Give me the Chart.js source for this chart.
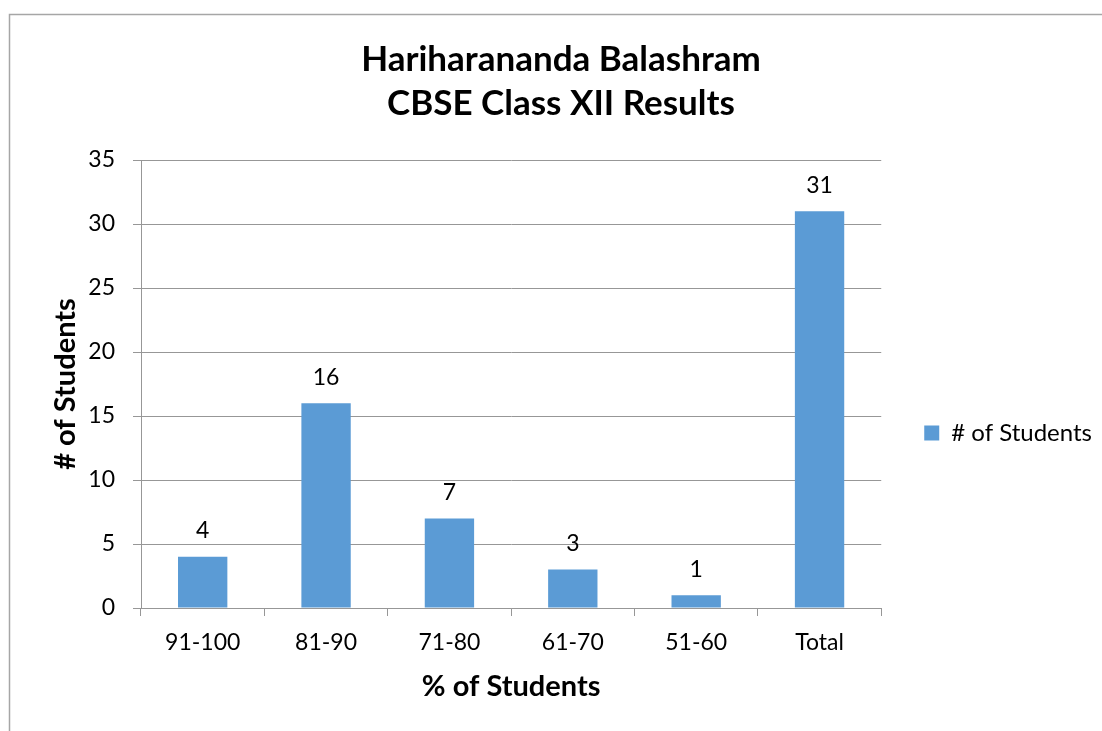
<!DOCTYPE html>
<html><head><meta charset="utf-8">
<script src="https://cdn.jsdelivr.net/npm/chart.js@4/dist/chart.umd.min.js"></script>
<style>html,body{margin:0;padding:0;background:#fff;overflow:hidden}#wrap{width:1102px;height:731px;position:relative}</style>
</head><body><div id="wrap"><canvas id="c" width="1102" height="731"></canvas></div>
<script>
const categories = ['91-100', '81-90', '71-80', '61-70', '51-60', 'Total'];
const students = [4, 16, 7, 3, 1, 31];
const titleLines = ['Hariharananda Balashram', 'CBSE Class XII Results'];
const seriesName = '# of Students';
const xTitle = '% of Students';
const yTitle = '# of Students';
const yMin = 0, yMax = 35, yStep = 5;

const FONT = 'Lato, "Open Sans", sans-serif';
const GRID = '#979797';

const framePlugin = {
  id: 'frame',
  beforeDraw(chart) {
    const ctx = chart.ctx;
    ctx.save();
    ctx.fillStyle = '#ffffff';
    ctx.fillRect(0, 0, chart.width, chart.height);
    ctx.strokeStyle = '#a6a6a6';
    ctx.lineWidth = 1.5;
    ctx.strokeRect(9.5, 14.5, 3000, 3000);
    ctx.restore();
  }
};

const labelPlugin = {
  id: 'barLabels',
  afterDatasetsDraw(chart) {
    const ctx = chart.ctx;
    ctx.save();
    ctx.fillStyle = '#000';
    ctx.font = '23px ' + FONT;
    ctx.textAlign = 'center';
    ctx.textBaseline = 'middle';
    chart.getDatasetMeta(0).data.forEach((bar, i) => {
      ctx.fillText(String(chart.data.datasets[0].data[i]), bar.x, bar.y - 26);
    });
    ctx.restore();
  }
};

const legendShift = {
  id: 'legendShift',
  afterLayout(chart) {
    if (chart.legend) { chart.legend.top += 49; chart.legend.bottom += 49; }
  }
};

new Chart(document.getElementById('c'), {
  type: 'bar',
  data: {
    labels: categories,
    datasets: [{
      label: seriesName,
      data: students,
      backgroundColor: '#5b9bd5',
      borderWidth: 0,
      barPercentage: 0.4,
      categoryPercentage: 1.0
    }]
  },
  plugins: [framePlugin, labelPlugin, legendShift],
  options: {
    responsive: false,
    animation: false,
    devicePixelRatio: 1,
    layout: { padding: { top: 0, left: 20, right: 0, bottom: 0 } },
    plugins: {
      tooltip: { enabled: false },
      title: {
        display: true,
        text: titleLines,
        color: '#000',
        font: { family: FONT, size: 35, weight: 'bold', lineHeight: 44 / 35 },
        padding: { top: 38, bottom: 34 }
      },
      legend: {
        display: true,
        position: 'right',
        fullSize: false,
        maxWidth: 240,
        labels: {
          color: '#000',
          font: { family: FONT, size: 24 },
          boxWidth: 15,
          boxHeight: 15,
          padding: 43
        }
      }
    },
    scales: {
      x: {
        grid: { offset: true, drawOnChartArea: false, color: GRID, tickLength: 8 },
        border: { color: GRID },
        ticks: { color: '#000', font: { family: FONT, size: 23 }, padding: 13, maxRotation: 0 },
        title: {
          display: true, text: xTitle, color: '#000',
          font: { family: FONT, size: 29, weight: 'bold' },
          padding: { top: 0, bottom: 27 }
        },
        afterFit(scale) { scale.height = 123; }
      },
      y: {
        min: yMin, max: yMax,
        grid: { color: GRID, tickLength: 8 },
        border: { color: GRID },
        ticks: { stepSize: yStep, color: '#000', font: { family: FONT, size: 23 }, padding: 18 },
        title: {
          display: true, text: yTitle, color: '#000',
          font: { family: FONT, size: 29, weight: 'bold' },
          padding: { top: 28, bottom: 0 }
        },
        afterFit(scale) { scale.width = 121; }
      }
    }
  }
});
</script></body></html>
